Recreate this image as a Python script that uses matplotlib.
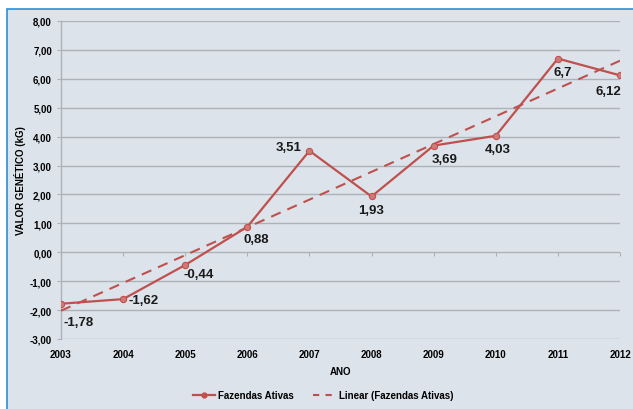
import numpy as np
import matplotlib
matplotlib.use("Agg")
import matplotlib.pyplot as plt
from matplotlib.patches import Rectangle
from matplotlib.lines import Line2D

plt.rcParams['font.family'] = ['Liberation Sans', 'DejaVu Sans']

years = [2003, 2004, 2005, 2006, 2007, 2008, 2009, 2010, 2011, 2012]
values = [-1.78, -1.62, -0.44, 0.88, 3.51, 1.93, 3.69, 4.03, 6.70, 6.12]
value_labels = ["-1,78", "-1,62", "-0,44", "0,88", "3,51", "1,93", "3,69", "4,03", "6,7", "6,12"]
y_ticks = [-3, -2, -1, 0, 1, 2, 3, 4, 5, 6, 7, 8]
y_tick_labels = ["-3,00", "-2,00", "-1,00", "0,00", "1,00", "2,00", "3,00",
                 "4,00", "5,00", "6,00", "7,00", "8,00"]
series_name = "Fazendas Ativas"
trend_name = "Linear (Fazendas Ativas)"

# label offsets (pixels) and alignments
label_offsets = [(2, -18, 'left'), (5, -1, 'left'), (-2, -9, 'left'), (-4, -12, 'left'),
                 (-8, 4, 'right'), (0, -14, 'center'), (-2, -13, 'left'), (2, -13, 'center'),
                 (5, -13, 'center'), (-12, -16, 'center')]

RED = "#C0504D"
BG = "#DCE3EA"
GRID = "#ADB2B7"

W, H = 633, 410
fig = plt.figure(figsize=(W / 100, H / 100), dpi=100, facecolor="white")
bg = Rectangle((7 / W, -0.05), 1.1, 1 - 10 / H + 0.05, transform=fig.transFigure,
               facecolor=BG, edgecolor="#2A8FD8", linewidth=1.2, zorder=-10)
fig.add_artist(bg)

ax = fig.add_axes([61 / W, 1 - 340 / H, (620 - 61) / W, (340 - 22) / H])
ax.set_zorder(2)
ax.set_facecolor("none")

x = np.arange(len(years))
ax.set_xlim(0, len(years) - 1)
ax.set_ylim(-3, 8)

for yv in y_ticks:
    ax.axhline(yv, color=GRID, lw=1.0, zorder=1)

# trend line (least squares, as Excel's linear trendline)
coef = np.polyfit(x, values, 1)
trend = np.polyval(coef, x)
ax.plot(x, trend, color=RED, lw=1.5, ls=(0, (5, 3.5)), zorder=3)

ax.plot(x, values, color=RED, lw=1.6, marker='o', ms=4.5, mfc="#D07A78", mec=RED, mew=0.8, zorder=4)

for xi, v, lab, (dx, dy, ha) in zip(x, values, value_labels, label_offsets):
    ax.annotate(lab, (xi, v), xytext=(dx * 0.72, dy * 0.72), textcoords='offset points',
                ha=ha, va='center', fontsize=9.5, fontweight='bold', color="#1A1A1A", zorder=5)

ax.set_yticks(y_ticks)
ax.set_yticklabels(y_tick_labels, fontsize=7, fontweight='bold')
ax.tick_params(axis='y', length=3, width=0.8, color=GRID, pad=3.5)

ax.set_xticks(x)
ax.set_xticklabels([str(y) for y in years], fontsize=7, fontweight='bold')
ax.tick_params(axis='x', length=0, pad=7)

for s in ['top', 'right', 'bottom']:
    ax.spines[s].set_visible(False)
ax.spines['left'].set_color(GRID)
ax.spines['left'].set_linewidth(1.0)

# tick marks on the zero line
sec = ax.secondary_xaxis(3 / 11)
sec.set_xticks(x)
sec.set_xticklabels([])
sec.tick_params(length=3, width=0.8, color=GRID, direction='out')
sec.spines['bottom'].set_visible(False)

ax.set_ylabel("VALOR GENÉTICO (kG)", fontsize=7, fontweight='bold', labelpad=3)
ax.set_xlabel("ANO", fontsize=7, fontweight='bold', labelpad=5)

handles = [Line2D([], [], color=RED, lw=1.6, marker='o', ms=3.5),
           Line2D([], [], color=RED, lw=1.5, ls=(0, (3, 3)))]
fig.legend(handles, [series_name, trend_name], loc='center', ncol=2, frameon=False,
           bbox_to_anchor=(323 / W, 1 - 396 / H), prop={'size': 7, 'weight': 'bold'},
           handlelength=2.3, columnspacing=2.0, handletextpad=0.3)

fig.savefig("out.png", dpi=100, facecolor="white")
